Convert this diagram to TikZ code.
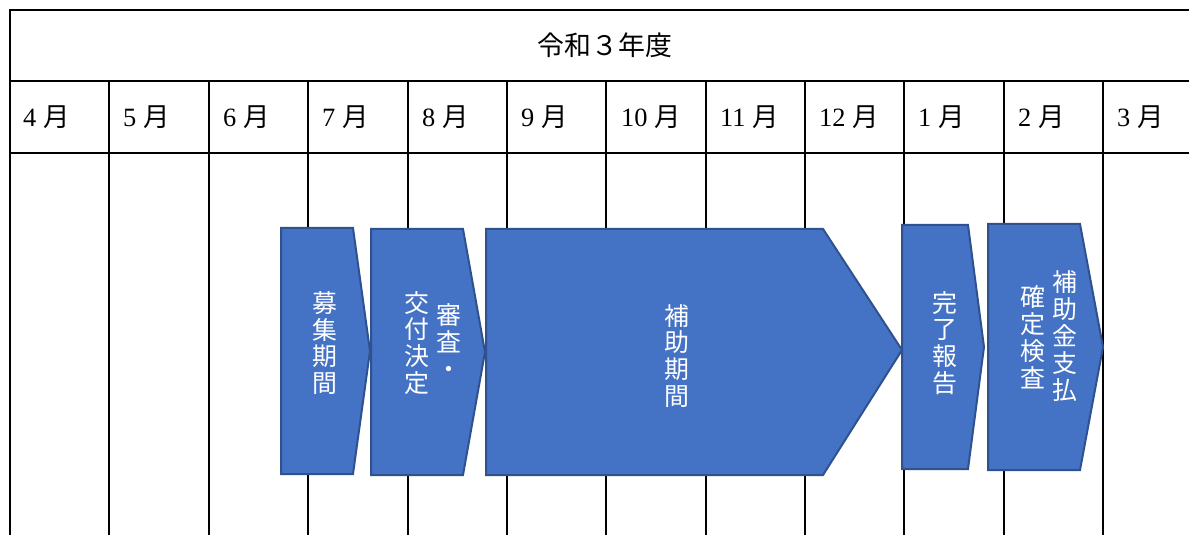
\documentclass[tikz,border=0pt]{standalone}
\usepackage{fontspec}
\setmainfont{Liberation Serif}
\newfontfamily\jp{Noto Sans CJK JP}
\definecolor{boxfill}{HTML}{4472C4}
\definecolor{boxline}{HTML}{2F528F}
\tikzset{
 gridline/.style={line width=2bp, black},
 phase/.style={fill=boxfill, draw=boxline, line width=2bp, line join=miter},
 vtext/.style={text=white, font=\jp\fontsize{25}{27}\selectfont, align=center, inner sep=0pt},
 month/.style={anchor=west, font=\fontsize{26.5}{28}\selectfont, inner sep=0pt},
 titletext/.style={font=\jp\fontsize{27}{29}\selectfont, inner sep=0pt},
}
\begin{document}
\begin{tikzpicture}[x=1bp,y=-1bp]
\useasboundingbox (0,0) rectangle (1189,535);
\fill[white] (0,0) rectangle (1189,535);
% table grid
\draw[gridline] (1189,10) -- (10,10) -- (10,535);
\draw[gridline] (10,81) -- (1189,81);
\draw[gridline] (10,153) -- (1189,153);
\foreach \x in {109,209,308,408,507,606,706,805,904,1004,1103}
  \draw[gridline] (\x,81) -- (\x,535);
% title
\node[titletext] (title) at (605,45) {令和３年度};
% months
\node[month] (m4)  at (23,117)  {4 {\jp 月}};
\node[month] (m5)  at (123,117) {5 {\jp 月}};
\node[month] (m6)  at (223,117) {6 {\jp 月}};
\node[month] (m7)  at (322,117) {7 {\jp 月}};
\node[month] (m8)  at (422,117) {8 {\jp 月}};
\node[month] (m9)  at (521,117) {9 {\jp 月}};
\node[month] (m10) at (621,117) {10 {\jp 月}};
\node[month] (m11) at (720,117) {11 {\jp 月}};
\node[month] (m12) at (819,117) {12 {\jp 月}};
\node[month] (m1)  at (918,117) {1 {\jp 月}};
\node[month] (m2)  at (1018,117) {2 {\jp 月}};
\node[month] (m3)  at (1117,117) {3 {\jp 月}};
% phases
\draw[phase] (281,228) -- (353,228) -- (370,351) -- (353,474) -- (281,474) -- cycle;
\draw[phase] (371,229) -- (463,229) -- (485,352) -- (463,475) -- (371,475) -- cycle;
\draw[phase] (486,229) -- (823,229) -- (902,350) -- (823,475) -- (486,475) -- cycle;
\draw[phase] (902,225) -- (968,225) -- (984,347) -- (968,469) -- (902,469) -- cycle;
\draw[phase] (988,224) -- (1080,224) -- (1103,347) -- (1080,470) -- (988,470) -- cycle;
% phase texts
\node[vtext] (p1)  at (325,343)  {募\\集\\期\\間};
\node[vtext] (p2a) at (449,341)  {審\\査\\・};
\node[vtext] (p2b) at (417,343)  {交\\付\\決\\定};
\node[vtext] (p3)  at (677,356)  {補\\助\\期\\間};
\node[vtext] (p4)  at (945,343)  {完\\了\\報\\告};
\node[vtext] (p5a) at (1065,336) {補\\助\\金\\支\\払};
\node[vtext] (p5b) at (1033,337) {確\\定\\検\\査};
\end{tikzpicture}
\end{document}
